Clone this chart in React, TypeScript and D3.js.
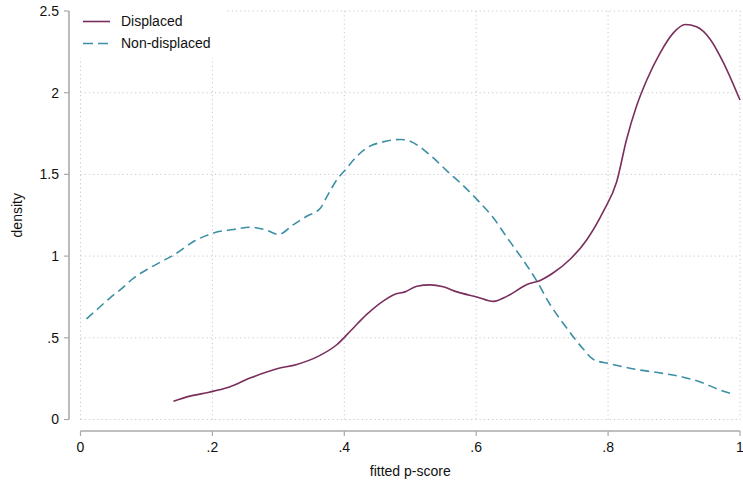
import React from "react";
import * as d3 from "d3";

// Kernel density of fitted propensity scores, by group
const displacedX = [0.141, 0.166, 0.195, 0.222, 0.258, 0.298, 0.328, 0.361, 0.389, 0.409, 0.434, 0.46, 0.48, 0.492, 0.51, 0.53, 0.55, 0.571, 0.601, 0.626, 0.647, 0.677, 0.697, 0.717, 0.742, 0.768, 0.793, 0.813, 0.828, 0.843, 0.859, 0.879, 0.899, 0.917, 0.934, 0.955, 0.975, 1.0];
const displacedY = [0.112, 0.143, 0.167, 0.194, 0.255, 0.31, 0.337, 0.388, 0.459, 0.54, 0.643, 0.728, 0.771, 0.781, 0.816, 0.824, 0.812, 0.781, 0.75, 0.723, 0.755, 0.826, 0.851, 0.898, 0.979, 1.102, 1.275, 1.455, 1.714, 1.917, 2.081, 2.244, 2.366, 2.417, 2.403, 2.326, 2.183, 1.955];

const nonDisplacedX = [0.009, 0.025, 0.045, 0.061, 0.081, 0.101, 0.121, 0.141, 0.174, 0.202, 0.232, 0.258, 0.283, 0.3, 0.323, 0.343, 0.364, 0.374, 0.389, 0.402, 0.419, 0.439, 0.457, 0.485, 0.5, 0.52, 0.535, 0.556, 0.576, 0.601, 0.626, 0.647, 0.667, 0.689, 0.712, 0.737, 0.763, 0.778, 0.803, 0.843, 0.884, 0.914, 0.939, 0.965, 0.987];
const nonDisplacedY = [0.616, 0.673, 0.745, 0.796, 0.867, 0.918, 0.963, 1.006, 1.095, 1.142, 1.163, 1.177, 1.157, 1.132, 1.193, 1.244, 1.295, 1.367, 1.469, 1.53, 1.611, 1.673, 1.697, 1.714, 1.703, 1.652, 1.601, 1.52, 1.448, 1.347, 1.234, 1.112, 1.0, 0.867, 0.704, 0.561, 0.428, 0.367, 0.341, 0.306, 0.282, 0.259, 0.231, 0.188, 0.157];

const xTicks = [0, 0.2, 0.4, 0.6, 0.8, 1];
const xTickLabels = ["0", ".2", ".4", ".6", ".8", "1"];
const yTicks = [0, 0.5, 1, 1.5, 2, 2.5];
const yTickLabels = ["0", ".5", "1", "1.5", "2", "2.5"];

const seriesNames = ["Displaced", "Non-displaced"];
const seriesColors = ["#7a2e5c", "#3c8fa5"];

const W = 743;
const H = 483;
const FONT = "'Liberation Sans', Arial, Helvetica, sans-serif";

export default function App() {
  const x = d3.scaleLinear().domain([0, 1]).range([80.5, 740]);
  const y = d3.scaleLinear().domain([0, 2.5]).range([419.5, 11]);

  const line = d3
    .line<[number, number]>()
    .x((d) => x(d[0]))
    .y((d) => y(d[1]))
    .curve(d3.curveMonotoneX);

  const displaced = displacedX.map((v, i) => [v, displacedY[i]] as [number, number]);
  const nonDisplaced = nonDisplacedX.map((v, i) => [v, nonDisplacedY[i]] as [number, number]);

  const axisColor = "#aaaaaa";
  const gridColor = "#c9c9c9";
  const yAxisX = 69;
  const xAxisY = 431;

  return (
    <svg
      width={W}
      height={H}
      style={{ position: "absolute", left: 0, top: 0, background: "#fff" }}
      fontFamily={FONT}
    >
      <rect x={0} y={0} width={W} height={H} fill="#fff" />

      {/* gridlines */}
      <g stroke={gridColor} strokeWidth={1} strokeDasharray="1.2,3">
        {yTicks.map((t) => (
          <line key={"gy" + t} x1={x(0)} x2={x(1)} y1={y(t)} y2={y(t)} />
        ))}
        {xTicks.map((t) => (
          <line key={"gx" + t} x1={x(t)} x2={x(t)} y1={y(2.5)} y2={y(0)} />
        ))}
      </g>

      {/* density curves */}
      <path d={line(nonDisplaced) || ""} fill="none" stroke={seriesColors[1]} strokeWidth={1.6} strokeDasharray="9,5" />
      <path d={line(displaced) || ""} fill="none" stroke={seriesColors[0]} strokeWidth={1.6} />

      {/* y axis */}
      <line x1={yAxisX} x2={yAxisX} y1={y(2.5)} y2={y(0)} stroke={axisColor} strokeWidth={1.6} />
      {yTicks.map((t, i) => (
        <g key={"yt" + t}>
          <line x1={yAxisX - 5} x2={yAxisX} y1={y(t)} y2={y(t)} stroke={axisColor} strokeWidth={1.2} />
          <text x={yAxisX - 10} y={y(t)} dy="0.35em" textAnchor="end" fontSize={14} fill="#111">
            {yTickLabels[i]}
          </text>
        </g>
      ))}
      <text transform={`translate(22,${(y(0) + y(2.5)) / 2}) rotate(-90)`} textAnchor="middle" fontSize={14} fill="#111">
        density
      </text>

      {/* x axis */}
      <line x1={x(0)} x2={x(1)} y1={xAxisY} y2={xAxisY} stroke={axisColor} strokeWidth={1.6} />
      {xTicks.map((t, i) => (
        <g key={"xt" + t}>
          <line x1={x(t)} x2={x(t)} y1={xAxisY} y2={xAxisY + 5} stroke={axisColor} strokeWidth={1.2} />
          <text x={x(t)} y={xAxisY + 21} textAnchor="middle" fontSize={14} fill="#111">
            {xTickLabels[i]}
          </text>
        </g>
      ))}
      <text x={(x(0) + x(1)) / 2} y={476} textAnchor="middle" fontSize={14} fill="#111">
        fitted p-score
      </text>

      {/* legend */}
      <rect x={72} y={4} width={154} height={54} fill="#fff" />
      {seriesNames.map((name, i) => {
        const ly = 21.5 + i * 22;
        return (
          <g key={name}>
            <line
              x1={83}
              x2={110}
              y1={ly}
              y2={ly}
              stroke={seriesColors[i]}
              strokeWidth={1.6}
              strokeDasharray={i === 1 ? "10,5" : undefined}
            />
            <text x={121} y={ly} dy="0.35em" fontSize={14} fill="#111">
              {name}
            </text>
          </g>
        );
      })}
    </svg>
  );
}
